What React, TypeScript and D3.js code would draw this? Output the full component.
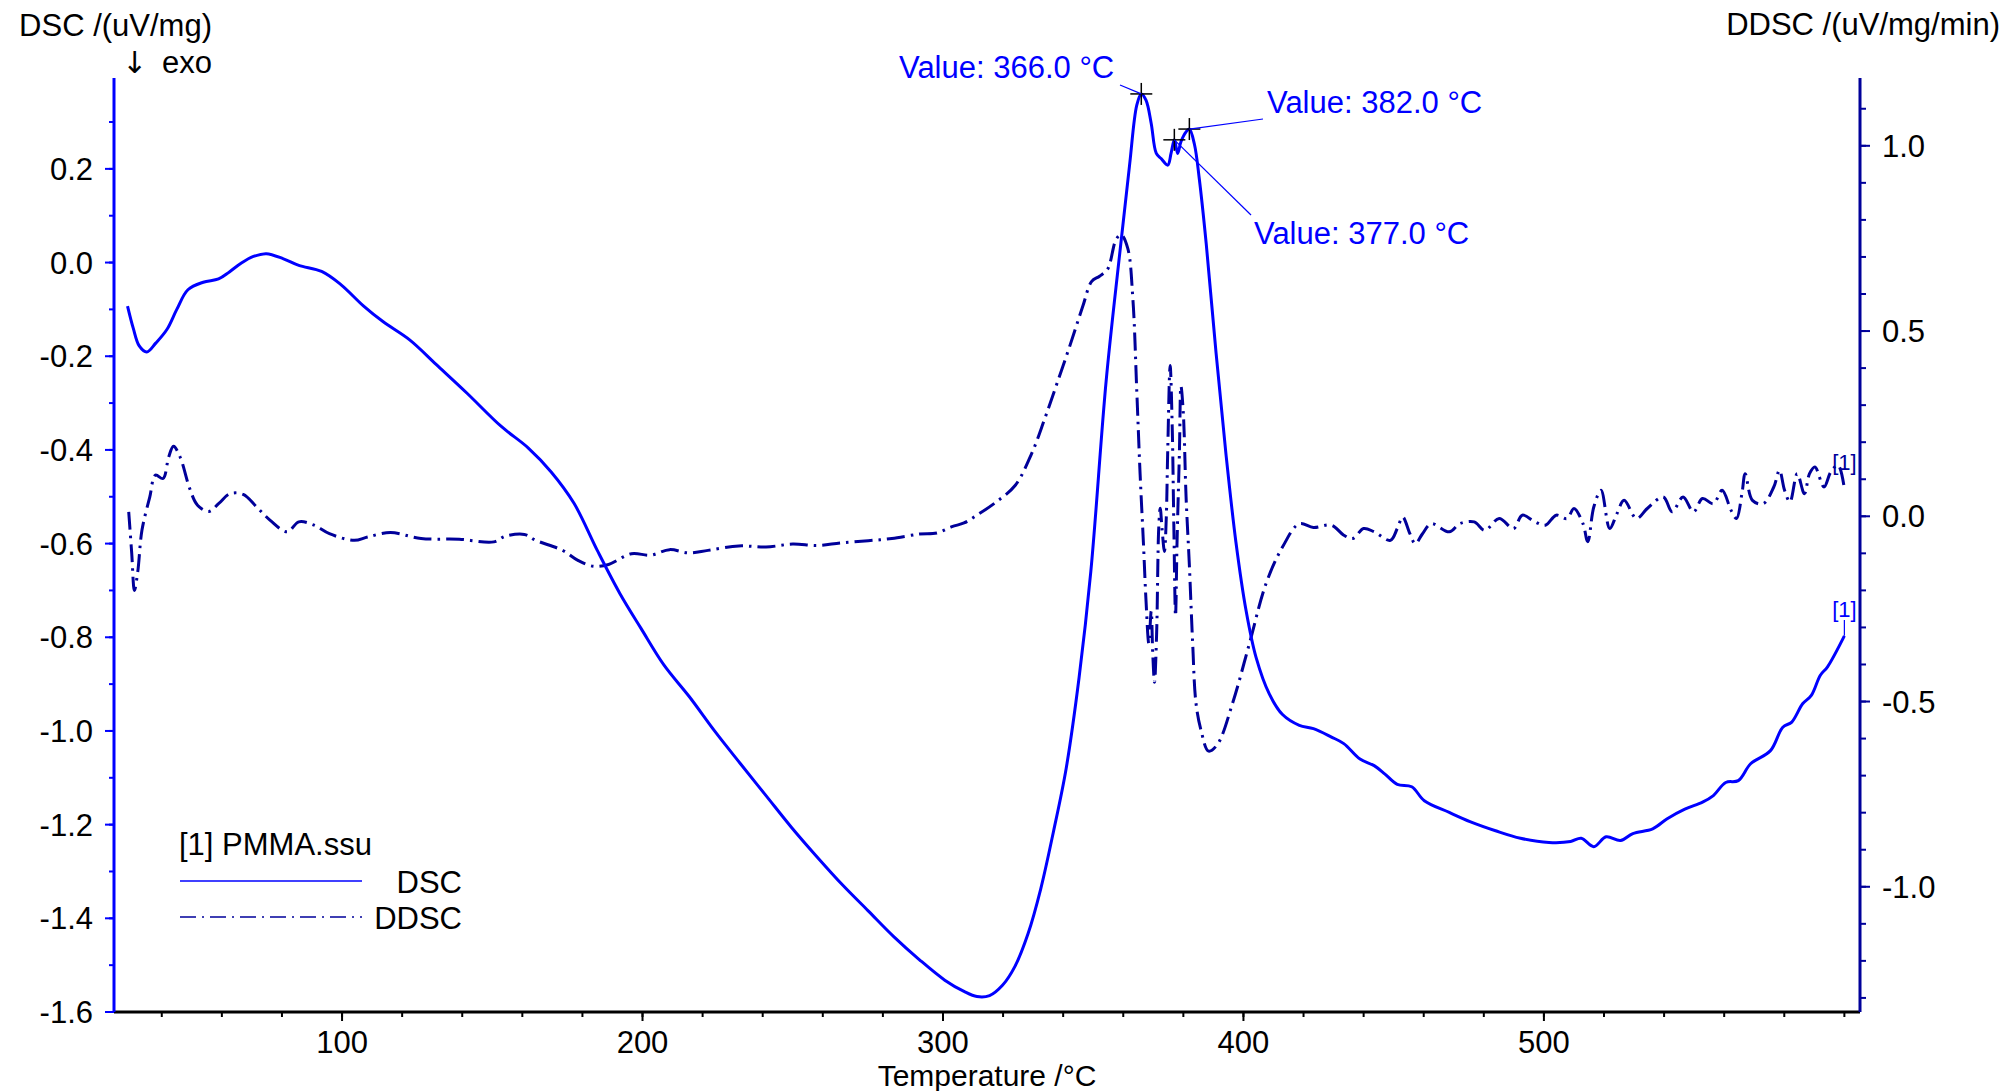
import React from "react";
import * as d3 from "d3";

// ---------- data ----------
const dscData: [number, number][] = [
  [28.6,-0.093],[30.5,-0.14],[32.5,-0.178],[35.0,-0.191],[38.0,-0.172],[41.7,-0.143],[45.0,-0.1],[48.7,-0.058],
  [53.8,-0.042],[58.9,-0.035],[62.5,-0.02],[66.5,-0.001],[70.5,0.013],[74.8,0.019],[80.5,0.008],[85.6,-0.006],
  [93.2,-0.019],[99.6,-0.047],[107.2,-0.093],[113.6,-0.126],[122.5,-0.165],[131.4,-0.218],[141.6,-0.279],
  [153.0,-0.35],[162.0,-0.396],[169.6,-0.447],[177.2,-0.514],[184.9,-0.614],[192.5,-0.707],[199.5,-0.781],
  [207.1,-0.859],[215.6,-0.927],[224.1,-1.001],[232.6,-1.07],[241.1,-1.138],[249.6,-1.206],[258.1,-1.269],
  [266.6,-1.329],[275.1,-1.384],[283.6,-1.439],[292.1,-1.488],[300.6,-1.532],[307.0,-1.556],[311.3,-1.567],
  [315.5,-1.565],[319.8,-1.543],[324.0,-1.502],[328.3,-1.433],[332.5,-1.338],[336.8,-1.214],[341.0,-1.08],
  [345.3,-0.886],[349.2,-0.66],[354.3,-0.253],[358.7,0.012],[362.1,0.208],[364.5,0.336],[366.0,0.36],
  [367.6,0.346],[369.3,0.297],[371.0,0.233],[372.6,0.222],[374.8,0.208],[375.9,0.233],[377.0,0.262],
  [378.1,0.233],[379.2,0.258],[380.9,0.279],[382.0,0.285],[383.7,0.252],[385.3,0.179],[387.6,0.041],
  [390.9,-0.194],[394.2,-0.41],[397.5,-0.597],[400.9,-0.744],[404.2,-0.843],[408.6,-0.921],[413.0,-0.965],
  [418.6,-0.988],[423.3,-0.995],[429.3,-1.013],[433.4,-1.027],[438.8,-1.06],[443.5,-1.074],[447.1,-1.092],
  [451.2,-1.114],[456.0,-1.119],[460.2,-1.149],[468.5,-1.174],[475.6,-1.194],[483.9,-1.213],[492.2,-1.229],
  [501.7,-1.238],[508.9,-1.236],[512.4,-1.229],[516.6,-1.247],[520.7,-1.226],[525.5,-1.234],[529.6,-1.219],
  [536.2,-1.209],[540.9,-1.188],[546.9,-1.167],[552.8,-1.152],[556.4,-1.138],[560.5,-1.11],[564.7,-1.106],
  [568.8,-1.07],[575.4,-1.042],[579.5,-0.992],[582.5,-0.981],[586.1,-0.942],[589.0,-0.924],[592.0,-0.881],
  [594.4,-0.863],[600.0,-0.797],
];

const ddscData: [number, number][] = [
  [29.0,0.012],[30.0,-0.1],[30.9,-0.2],[32.0,-0.15],[33.4,-0.038],[36.0,0.052],[37.9,0.111],[40.4,0.102],
  [42.3,0.16],[43.9,0.189],[46.1,0.16],[49.3,0.075],[51.9,0.03],[55.7,0.013],[58.9,0.034],[62.7,0.061],
  [67.1,0.059],[71.6,0.025],[76.1,-0.011],[81.8,-0.042],[85.6,-0.015],[90.7,-0.024],[95.8,-0.047],
  [104.1,-0.065],[108.5,-0.056],[116.1,-0.044],[126.3,-0.06],[139.0,-0.062],[150.5,-0.069],[154.3,-0.054],
  [160.7,-0.049],[164.5,-0.065],[173.4,-0.092],[178.5,-0.119],[183.6,-0.135],[188.7,-0.13],[196.3,-0.101],
  [202.7,-0.105],[209.0,-0.09],[215.4,-0.099],[221.8,-0.092],[232.0,-0.08],[241.1,-0.083],[250.0,-0.075],
  [258.1,-0.079],[266.0,-0.072],[275.1,-0.066],[283.0,-0.06],[292.1,-0.048],[298.0,-0.045],[303.0,-0.028],
  [307.0,-0.018],[311.3,0.003],[317.6,0.038],[324.0,0.083],[329.5,0.169],[333.8,0.262],[338.0,0.36],
  [342.3,0.462],[346.5,0.566],[349.5,0.634],[352.1,0.648],[354.8,0.667],[357.6,0.747],[359.3,0.76],
  [361.5,0.723],[363.2,0.586],[364.5,0.338],[365.6,0.115],[366.7,-0.07],[367.6,-0.232],[368.5,-0.343],
  [369.3,-0.256],[369.8,-0.368],[370.4,-0.448],[371.1,-0.318],[371.8,-0.033],[372.3,0.022],[372.9,-0.033],
  [373.7,-0.095],[374.3,-0.008],[374.8,0.177],[375.6,0.407],[376.3,0.239],[376.8,-0.008],[377.4,-0.269],
  [377.9,-0.07],[378.7,0.177],[379.2,0.351],[380.0,0.277],[380.9,0.053],[382.0,-0.132],[383.1,-0.343],
  [384.2,-0.504],[385.9,-0.578],[388.4,-0.634],[391.4,-0.615],[396.4,-0.504],[402.0,-0.343],[407.5,-0.182],
  [413.0,-0.083],[418.6,-0.02],[423.3,-0.03],[429.3,-0.024],[433.4,-0.051],[436.4,-0.06],[440.0,-0.033],
  [443.5,-0.042],[448.9,-0.065],[451.2,-0.033],[453.0,-0.002],[455.4,-0.047],[457.2,-0.074],[459.6,-0.047],
  [462.5,-0.02],[468.5,-0.042],[472.0,-0.02],[476.8,-0.015],[480.3,-0.038],[485.1,-0.006],[489.9,-0.033],
  [492.8,0.003],[497.0,-0.015],[500.5,-0.024],[504.1,0.003],[507.7,-0.006],[510.0,0.021],[513.0,-0.02],
  [514.6,-0.069],[516.6,0.025],[519.0,0.07],[521.9,-0.033],[524.3,0.007],[526.7,0.043],[530.8,-0.006],
  [534.4,0.021],[539.7,0.052],[542.7,0.012],[546.3,0.052],[549.8,0.012],[552.8,0.048],[556.4,0.034],
  [559.3,0.07],[562.3,0.016],[564.1,-0.006],[565.9,0.061],[567.0,0.115],[569.4,0.043],[573.0,0.034],
  [576.5,0.079],[578.4,0.124],[580.1,0.07],[581.9,0.039],[584.3,0.115],[586.7,0.061],[588.4,0.115],
  [590.2,0.133],[593.2,0.079],[595.5,0.12],[597.9,0.138],[600.0,0.075],
];

const peakMarkers: [number, number][] = [[366.0, 0.36], [377.0, 0.262], [382.0, 0.285]];
const peakLabels = ["Value: 366.0 °C", "Value: 377.0 °C", "Value: 382.0 °C"];

const xMajorTicks = [100, 200, 300, 400, 500];
const xMinorTicks = d3.range(40, 601, 20);
const leftMajorTicks = d3.range(-1.6, 0.21, 0.2).map((v) => +v.toFixed(1));
const leftMinorTicks = d3.range(-1.6, 0.31, 0.1).map((v) => +v.toFixed(1));
const rightMajorTicks = [-1.0, -0.5, 0.0, 0.5, 1.0];
const rightMinorTicks = d3.range(-1.3, 1.11, 0.1).map((v) => +v.toFixed(1));

const W = 2004, H = 1091;
const L = 114, R = 1860, T = 78, B = 1012;
const BLUE = "#0000ff";
const NAVY = "#00009a";
const FONT = "'Liberation Sans', Arial, Helvetica, sans-serif";
const FS = 31;

export default function App() {
  const x = d3.scaleLinear().domain([24.1, 605.2]).range([L, R]);
  const yL = d3.scaleLinear().domain([-1.6, 0.394]).range([B, T]);
  const yR = d3.scaleLinear().domain([-1.338, 1.183]).range([B, T]);

  const dscLine = d3.line<[number, number]>().x((d) => x(d[0])).y((d) => yL(d[1])).curve(d3.curveCatmullRom.alpha(0.5));
  const ddscLine = d3.line<[number, number]>().x((d) => x(d[0])).y((d) => yR(d[1])).curve(d3.curveCatmullRom.alpha(0.5));

  const dscEnd = dscData[dscData.length - 1];
  const ddscEnd = ddscData[ddscData.length - 1];

  const m = peakMarkers.map((p) => ({ x: x(p[0]), y: yL(p[1]) }));

  return (
    <svg width={W} height={H} style={{ position: "absolute", left: 0, top: 0, background: "#fff" }} fontFamily={FONT}>
      <rect width={W} height={H} fill="#fff" />
      {/* curves */}
      <path d={ddscLine(ddscData) || ""} fill="none" stroke={NAVY} strokeWidth={3} strokeDasharray="18 6 2.5 6" />
      <path d={dscLine(dscData) || ""} fill="none" stroke={BLUE} strokeWidth={3} />

      {/* x axis */}
      <line x1={L} x2={R} y1={B} y2={B} stroke="#000" strokeWidth={3} />
      {xMinorTicks.map((t) => (
        <line key={"xm" + t} x1={x(t)} x2={x(t)} y1={B} y2={B + 5} stroke="#000" strokeWidth={2} />
      ))}
      {xMajorTicks.map((t) => (
        <g key={"xM" + t}>
          <line x1={x(t)} x2={x(t)} y1={B} y2={B + 9} stroke="#000" strokeWidth={2} />
          <text x={x(t)} y={1053} textAnchor="middle" fontSize={FS} fill="#000">{t}</text>
        </g>
      ))}
      <text x={(L + R) / 2} y={1086} textAnchor="middle" fontSize={30} fill="#000">Temperature /°C</text>

      {/* left axis */}
      <line x1={L} x2={L} y1={T} y2={B} stroke={BLUE} strokeWidth={3} />
      {leftMinorTicks.map((t) => (
        <line key={"lm" + t} x1={L - 5} x2={L} y1={yL(t)} y2={yL(t)} stroke={BLUE} strokeWidth={2} />
      ))}
      {leftMajorTicks.map((t) => (
        <g key={"lM" + t}>
          <line x1={L - 9} x2={L} y1={yL(t)} y2={yL(t)} stroke={BLUE} strokeWidth={2} />
          <text x={93} y={yL(t) + 11} textAnchor="end" fontSize={FS} fill="#000">{t.toFixed(1)}</text>
        </g>
      ))}
      <text x={212} y={36} textAnchor="end" fontSize={FS} fill="#000">DSC /(uV/mg)</text>
      <text x={122} y={73} fontSize={30} fill="#000" fontFamily="'DejaVu Sans', sans-serif">↓</text>
      <text x={212} y={73} textAnchor="end" fontSize={FS} fill="#000">exo</text>

      {/* right axis */}
      <line x1={R} x2={R} y1={T} y2={B} stroke={NAVY} strokeWidth={3} />
      {rightMinorTicks.map((t) => (
        <line key={"rm" + t} x1={R} x2={R + 6} y1={yR(t)} y2={yR(t)} stroke={NAVY} strokeWidth={2} />
      ))}
      {rightMajorTicks.map((t) => (
        <g key={"rM" + t}>
          <line x1={R} x2={R + 10} y1={yR(t)} y2={yR(t)} stroke={NAVY} strokeWidth={2} />
          <text x={1882} y={yR(t) + 11} fontSize={FS} fill="#000">{t.toFixed(1)}</text>
        </g>
      ))}
      <text x={2000} y={35} textAnchor="end" fontSize={FS} fill="#000">DDSC /(uV/mg/min)</text>

      {/* peak markers */}
      {m.map((p, i) => (
        <g key={"pk" + i} stroke="#000" strokeWidth={1.5}>
          <line x1={p.x - 11} x2={p.x + 11} y1={p.y} y2={p.y} />
          <line x1={p.x} x2={p.x} y1={p.y - 11} y2={p.y + 11} />
        </g>
      ))}
      <line x1={1120} y1={85} x2={m[0].x} y2={m[0].y} stroke={BLUE} strokeWidth={1.2} />
      <text x={899} y={78} fontSize={FS} fill={BLUE}>{peakLabels[0]}</text>
      <line x1={1263} y1={119} x2={m[2].x} y2={m[2].y} stroke={BLUE} strokeWidth={1.2} />
      <text x={1267} y={113} fontSize={FS} fill={BLUE}>{peakLabels[2]}</text>
      <line x1={1251} y1={215} x2={m[1].x} y2={m[1].y} stroke={BLUE} strokeWidth={1.2} />
      <text x={1254} y={244} fontSize={FS} fill={BLUE}>{peakLabels[1]}</text>

      {/* end labels */}
      <text x={x(ddscEnd[0])} y={470} textAnchor="middle" fontSize={22} fill={NAVY}>[1]</text>
      <text x={x(dscEnd[0])} y={617} textAnchor="middle" fontSize={22} fill={BLUE}>[1]</text>
      <line x1={x(dscEnd[0])} x2={x(dscEnd[0])} y1={620} y2={yL(dscEnd[1])} stroke={BLUE} strokeWidth={1.2} />

      {/* legend */}
      <text x={179} y={855} fontSize={FS} fill="#000">[1] PMMA.ssu</text>
      <line x1={180} x2={362} y1={881} y2={881} stroke={BLUE} strokeWidth={1.5} />
      <text x={462} y={893} textAnchor="end" fontSize={FS} fill="#000">DSC</text>
      <line x1={180} x2={362} y1={917} y2={917} stroke={NAVY} strokeWidth={1.5} strokeDasharray="16 6 2 6" />
      <text x={462} y={929} textAnchor="end" fontSize={FS} fill="#000">DDSC</text>
    </svg>
  );
}
